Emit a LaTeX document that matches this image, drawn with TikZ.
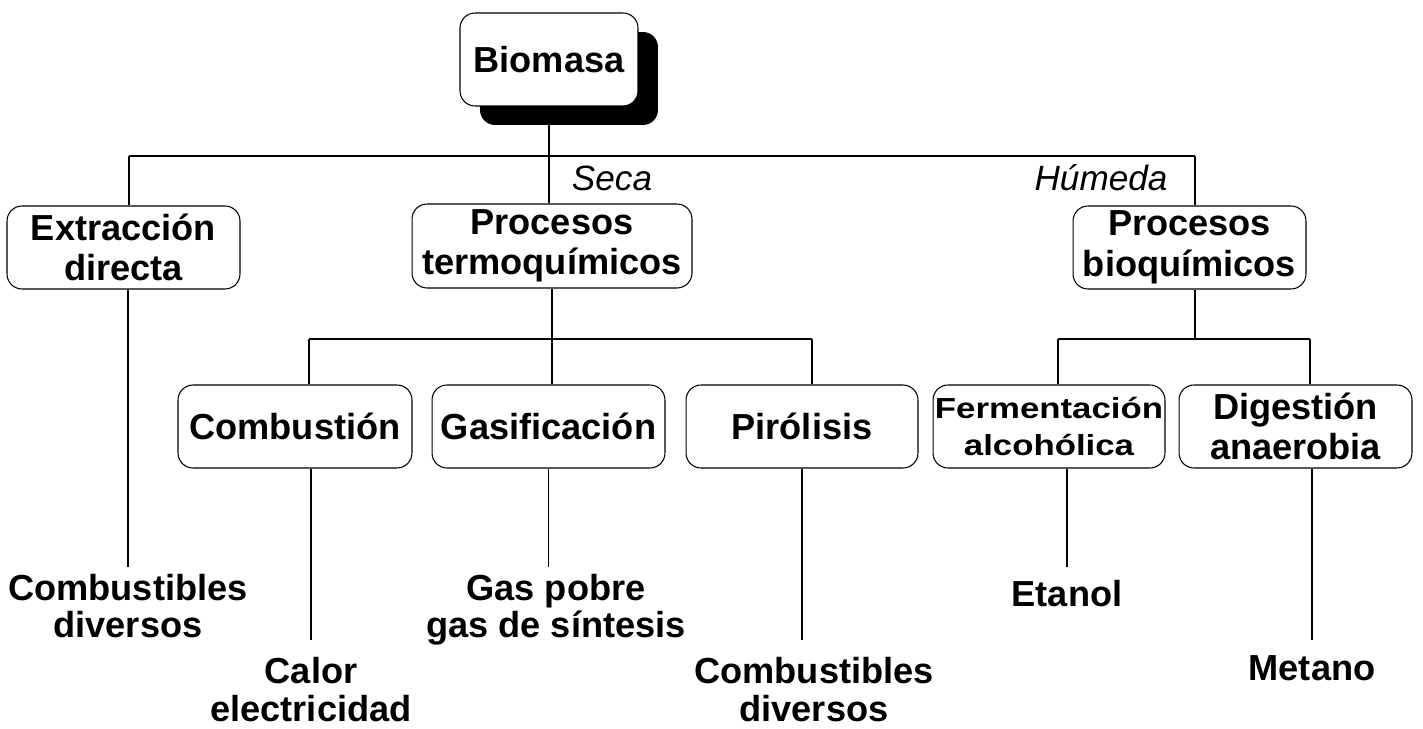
\documentclass[tikz,border=0pt]{standalone}
\usepackage{fontspec}
\setmainfont{Liberation Sans}
\newfontfamily\anchafont[FakeStretch=1.2]{Liberation Sans}
\usetikzlibrary{shadows}

\begin{document}
\begin{tikzpicture}[x=0.02cm, y=-0.02cm, line width=0.85pt]
\tikzset{caja/.style={draw, line width=0.6pt, rounded corners=0.3cm, align=center, inner sep=0pt, minimum height=1.66cm, minimum width=4.66cm, fill=white, font=\fontsize{20.6}{23}\selectfont\bfseries}}
\tikzset{salida/.style={align=center, anchor=north, inner xsep=0pt, inner ysep=3.5pt, font=\fontsize{20.6}{21.5}\selectfont\bfseries}}
\tikzset{rotulo/.style={inner sep=0pt, font=\fontsize{20}{22}\selectfont\itshape}}
\useasboundingbox (0,0) rectangle (1423,729);
% cajas
\node[caja, minimum width=3.56cm, minimum height=1.86cm, drop shadow={shadow xshift=0.4cm, shadow yshift=-0.38cm, opacity=1, fill=black}] (bio) at (549,59.5) {Biomasa};
\node[caja] (extr) at (123.5,247.5) {Extracción\\directa};
\node[caja, minimum width=5.6cm, minimum height=1.68cm] (termo) at (552,246) {Procesos\\termoquímicos};
\node[caja] (bioq) at (1189.5,247.5) {Procesos\\bioquímicos};
\node[caja, minimum width=4.68cm] (comb) at (295,426.5) {Combustión};
\node[caja] (gasif) at (548.5,426.5) {Gasificación};
\node[caja, minimum width=4.64cm] (piro) at (802,426.5) {Pirólisis};
\node[caja, minimum width=4.64cm, font=\fontsize{16.5}{21}\anchafont\bfseries] (ferm) at (1049,426.5) {Fermentación\\alcohólica};
\node[caja] (dige) at (1295.5,426.5) {Digestión\\anaerobia};
% rotulos
\node[rotulo] (seca) at (612,178) {Seca};
\node[rotulo] (humeda) at (1101,178) {Húmeda};
% salidas
\node[salida] (out1) at (128,567) {Combustibles\\diversos};
\node[salida, inner ysep=9.5pt] (out2) at (311,640) {Calor\\electricidad};
\node[salida] (out3) at (556,567) {Gas pobre\\gas de síntesis};
\node[salida, inner ysep=9.5pt] (out4) at (814,640) {Combustibles\\diversos};
\node[salida, inner ysep=7pt] (out5) at (1067,567) {Etanol};
\node[salida, inner ysep=8.5pt] (out6) at (1312,640) {Metano};
% ramas
\coordinate (b1) at (129,156);
\coordinate (b2) at (1195,156);
\coordinate (c1) at (309,339);
\coordinate (c2) at (812,339);
\coordinate (d1) at (1058,339);
\coordinate (d2) at (1310,339);
\draw (bio.south) -- (bio.south |- termo.north);
\draw (b1) -- (b2);
\draw (b1) -- (b1 |- extr.north);
\draw (b2) -- (b2 |- bioq.north);
\draw (termo.south) -- (termo.south |- gasif.north);
\draw (c1) -- (c2);
\draw (c1) -- (c1 |- comb.north);
\draw (c2) -- (c2 |- piro.north);
\draw (b2 |- bioq.south) -- (b2 |- d1);
\draw (d1) -- (d2);
\draw (d1) -- (d1 |- ferm.north);
\draw (d2) -- (d2 |- dige.north);
\draw (out1.north |- extr.south) -- (out1.north);
\draw (out2.north |- comb.south) -- (out2.north);
\draw (gasif.south) -- (gasif.south |- out3.north);
\draw (piro.south) -- (piro.south |- out4.north);
\draw (out5.north |- ferm.south) -- (out5.north);
\draw (out6.north |- dige.south) -- (out6.north);
\end{tikzpicture}
\end{document}
